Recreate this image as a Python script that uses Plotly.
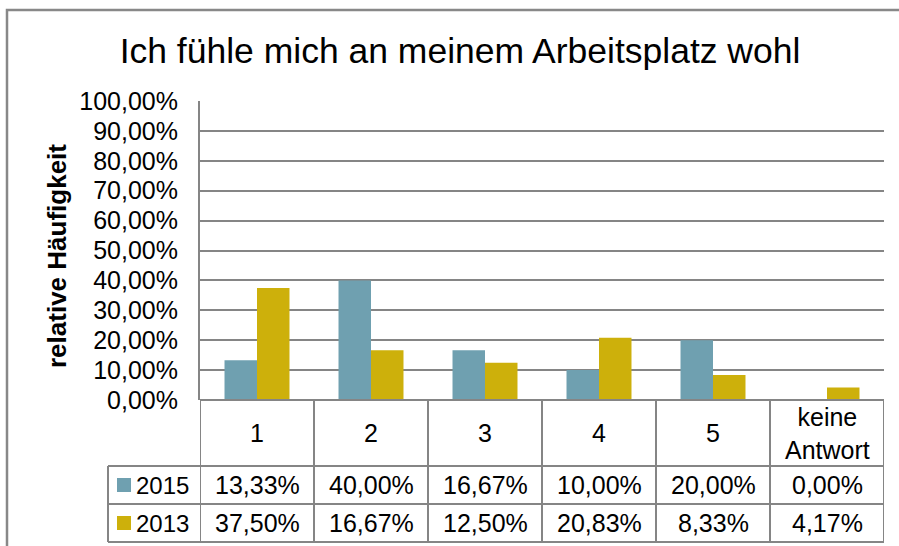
import plotly.graph_objects as go

categories = ["1", "2", "3", "4", "5", "keine<br>Antwort"]
series_names = ["2015", "2013"]
values_2015 = [0.1333, 0.4000, 0.1667, 0.1000, 0.2000, 0.0000]
values_2013 = [0.3750, 0.1667, 0.1250, 0.2083, 0.0833, 0.0417]
labels_2015 = ["13,33%", "40,00%", "16,67%", "10,00%", "20,00%", "0,00%"]
labels_2013 = ["37,50%", "16,67%", "12,50%", "20,83%", "8,33%", "4,17%"]
colors = ["#6FA0B0", "#CDB00B"]

W, H = 899, 546
L, R, T, B = 200, 15, 101, 146
PW, PH = W - L - R, H - T - B

def px_x(xp):
    return (xp - L) / PW

def px_y(yp):
    return (H - B - yp) / PH

FONT = "Liberation Sans, Arial, sans-serif"
GRID = "#858585"

fig = go.Figure()
for name, vals, col in zip(series_names, [values_2015, values_2013], colors):
    fig.add_trace(go.Bar(x=list(range(len(categories))), y=vals, name=name,
                         marker=dict(color=col, line=dict(width=0)),
                         showlegend=False, hoverinfo="skip"))

shapes = []
annotations = []

# table geometry (pixels)
y_top, y_h, y_r1, y_r2 = 400, 466, 504, 542
x_leg = 108

for i in range(len(categories) + 1):
    shapes.append(dict(type="line", xref="x", yref="paper", x0=i - 0.5, x1=i - 0.5,
                       y0=px_y(y_top), y1=px_y(y_r2), line=dict(color=GRID, width=2)))
for yy, xs in [(y_top, 200), (y_h, x_leg), (y_r1, x_leg), (y_r2, x_leg)]:
    shapes.append(dict(type="line", xref="paper", yref="paper", x0=px_x(xs), x1=1,
                       y0=px_y(yy), y1=px_y(yy), line=dict(color=GRID, width=2)))
shapes.append(dict(type="line", xref="paper", yref="paper", x0=px_x(x_leg), x1=px_x(x_leg),
                   y0=px_y(y_h), y1=px_y(y_r2), line=dict(color=GRID, width=2)))

for i, c in enumerate(categories):
    annotations.append(dict(x=i, xref="x", y=px_y((y_top + y_h) / 2), yref="paper",
                            text=c, showarrow=False, yanchor="middle",
                            font=dict(family=FONT, size=25, color="black")))
for r, (name, labs, col) in enumerate(zip(series_names, [labels_2015, labels_2013], colors)):
    yc = (y_h + y_r1) / 2 if r == 0 else (y_r1 + y_r2) / 2
    for i, lab in enumerate(labs):
        annotations.append(dict(x=i, xref="x", y=px_y(yc), yref="paper", text=lab,
                                showarrow=False, yanchor="middle",
                                font=dict(family=FONT, size=25, color="black")))
    shapes.append(dict(type="rect", xref="paper", yref="paper",
                       x0=px_x(117), x1=px_x(131), y0=px_y(yc - 7), y1=px_y(yc + 7),
                       fillcolor=col, line=dict(width=0)))
    annotations.append(dict(x=px_x(134), xref="paper", y=px_y(yc), yref="paper", text=name,
                            showarrow=False, xanchor="left", yanchor="middle",
                            font=dict(family=FONT, size=24, color="black")))

annotations.append(dict(x=px_x(57), xref="paper", y=px_y(256), yref="paper",
                        text="<b>relative Häufigkeit</b>", textangle=-90, showarrow=False,
                        xanchor="center", yanchor="middle",
                        font=dict(family=FONT, size=26, color="black")))

shapes.append(dict(type="path", xref="paper", yref="paper",
                   path=f"M {px_x(7)} {px_y(560)} L {px_x(7)} {px_y(10)} L {px_x(905)} {px_y(10)}",
                   line=dict(color="#888888", width=2.5)))

fig.update_layout(
    width=W, height=H,
    margin=dict(l=L, r=R, t=T, b=B),
    paper_bgcolor="white", plot_bgcolor="white",
    separators=",.",
    barmode="group", bargap=0.43, bargroupgap=0,
    title=dict(text="Ich fühle mich an meinem Arbeitsplatz wohl", x=460 / W, xanchor="center",
               y=1 - 51 / H, yanchor="middle", xref="container", yref="container",
               font=dict(family=FONT, size=35.5, color="black")),
    xaxis=dict(range=[-0.5, len(categories) - 0.5], showticklabels=False, showgrid=False,
               zeroline=False, showline=False, ticks=""),
    yaxis=dict(range=[0, 1], dtick=0.1, tickformat=".2%", showgrid=True, gridcolor=GRID,
               gridwidth=2, zeroline=False, showline=True, linecolor=GRID, linewidth=2,
               ticks="", ticklabelstandoff=15,
               tickfont=dict(family=FONT, size=25, color="black")),
    shapes=shapes, annotations=annotations,
)

fig.write_html("out.html", config={"displayModeBar": False},
               post_script="document.body.style.margin='0';document.body.style.overflow='hidden';")
